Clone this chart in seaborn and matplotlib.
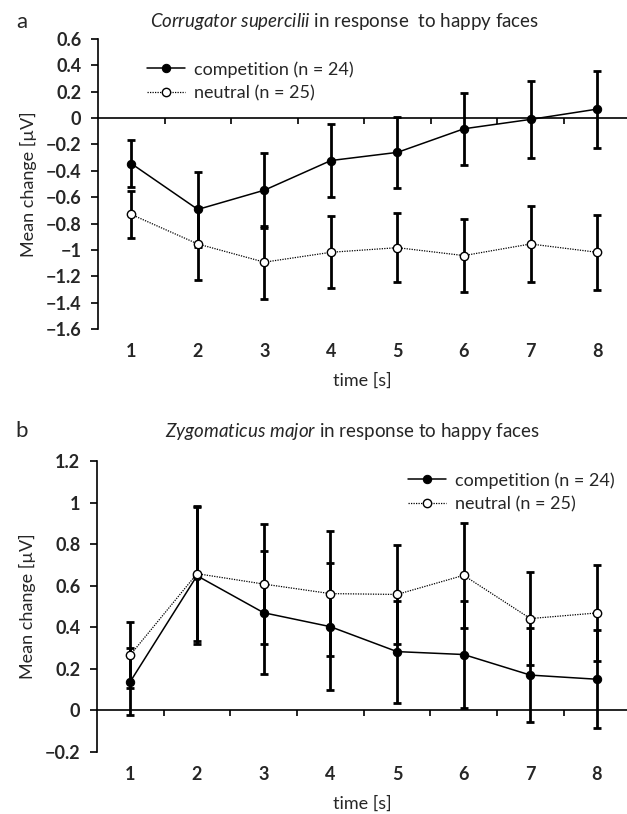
import numpy as np
import pandas as pd
import matplotlib
matplotlib.use('Agg')
import matplotlib.pyplot as plt
import seaborn as sns
from matplotlib.ticker import FuncFormatter

# time points (s)
time_s = [1, 2, 3, 4, 5, 6, 7, 8]
group_names = ['competition (n = 24)', 'neutral (n = 25)']

# panel a: corrugator supercilii, mean change and SE
corr_comp = [-0.345, -0.693, -0.547, -0.322, -0.26, -0.081, -0.01, 0.068]
corr_comp_se = [0.18, 0.287, 0.285, 0.278, 0.27, 0.272, 0.29, 0.292]
corr_neut = [-0.731, -0.955, -1.093, -1.018, -0.983, -1.043, -0.955, -1.018]
corr_neut_se = [0.176, 0.277, 0.278, 0.274, 0.26, 0.275, 0.287, 0.285]

# panel b: zygomaticus major
zyg_comp = [0.139, 0.648, 0.47, 0.403, 0.283, 0.269, 0.17, 0.15]
zyg_comp_se = [0.163, 0.33, 0.295, 0.305, 0.245, 0.256, 0.228, 0.235]
zyg_neut = [0.267, 0.658, 0.608, 0.562, 0.558, 0.65, 0.442, 0.469]
zyg_neut_se = [0.16, 0.325, 0.29, 0.3, 0.24, 0.252, 0.222, 0.23]

corr_ticks = [0.6, 0.4, 0.2, 0, -0.2, -0.4, -0.6, -0.8, -1, -1.2, -1.4, -1.6]
zyg_ticks = [1.2, 1, 0.8, 0.6, 0.4, 0.2, 0, -0.2]

sns.set_style('white')
plt.rcParams['font.family'] = ['Lato', 'DejaVu Sans']
plt.rcParams['mathtext.fontset'] = 'custom'
plt.rcParams['mathtext.rm'] = 'Lato'
plt.rcParams['mathtext.it'] = 'Lato:italic'

FS = 13

W, H = 627, 814
fig = plt.figure(figsize=(W / 100, H / 100), dpi=100)
ax_a = fig.add_axes([98 / W, 1 - 329 / H, 1 - 98 / W, 290 / H])
ax_b = fig.add_axes([97 / W, 1 - 752 / H, 1 - 97 / W, 291 / H])


def fmt(v, pos):
    return f"{v:g}".replace('-', '\u2212')


def draw_panel(ax, comp, comp_se, neut, neut_se, yticks, legend_xy):
    df = pd.DataFrame({
        'time': time_s * 2,
        'value': comp + neut,
        'group': [group_names[0]] * 8 + [group_names[1]] * 8,
    })
    ax.errorbar(time_s, comp, yerr=comp_se, fmt='none', ecolor='black',
                elinewidth=2, capsize=3, capthick=2, zorder=2)
    ax.errorbar(time_s, neut, yerr=neut_se, fmt='none', ecolor='black',
                elinewidth=2, capsize=3, capthick=2, zorder=2)
    sns.lineplot(data=df[df.group == group_names[0]], x='time', y='value',
                 color='black', lw=1.1, marker='o', markersize=6,
                 markerfacecolor='black', markeredgecolor='black',
                 label=group_names[0], ax=ax, zorder=3)
    sns.lineplot(data=df[df.group == group_names[1]], x='time', y='value',
                 color='black', lw=0.9, linestyle=(0, (1, 1)), marker='o',
                 markersize=6, markerfacecolor='white',
                 markeredgecolor='black', markeredgewidth=1,
                 label=group_names[1], ax=ax, zorder=3)

    ax.set_xlim(0.5, 8.45)
    ax.set_ylim(min(yticks), max(yticks))
    ax.set_yticks(yticks)
    ax.yaxis.set_major_formatter(FuncFormatter(fmt))
    for s in ['top', 'right']:
        ax.spines[s].set_visible(False)
    ax.spines['bottom'].set_position(('data', 0))
    for s in ['left', 'bottom']:
        ax.spines[s].set_color('black')
        ax.spines[s].set_linewidth(1.2)
    ax.set_xticks(np.arange(1.5, 8, 1))
    ax.set_xticklabels([])
    ax.tick_params(axis='x', direction='out', length=4, width=1.2,
                   color='black', bottom=True)
    ax.tick_params(axis='y', direction='out', length=5, width=1.2,
                   color='black', left=True, pad=7, labelsize=FS)
    for t in ax.get_yticklabels():
        t.set_fontweight('bold')
    ax.set_xlabel('')
    ax.set_ylabel('Mean change [\u00b5V]', fontsize=FS, labelpad=6)

    sec = ax.secondary_xaxis('bottom')
    sec.set_xticks(time_s)
    sec.set_xticklabels([str(t) for t in time_s], fontweight='bold',
                        fontsize=FS)
    sec.tick_params(length=0, pad=10)
    sec.spines['bottom'].set_visible(False)
    sec.set_xlabel('time [s]', fontsize=FS, labelpad=9)

    ax.legend(loc='upper left', bbox_to_anchor=legend_xy, frameon=False,
              fontsize=FS, handlelength=2.1, handletextpad=0.5,
              labelspacing=0.4, borderaxespad=0)


draw_panel(ax_a, corr_comp, corr_comp_se, corr_neut, corr_neut_se,
           corr_ticks, (42 / 529, 1 - 15 / 290))
draw_panel(ax_b, zyg_comp, zyg_comp_se, zyg_neut, zyg_neut_se,
           zyg_ticks, (304 / 530, 1 - 4 / 291))

fig.text(22 / W, 1 - 22 / H, 'a', fontsize=16, va='center', ha='center')
fig.text(345 / W, 1 - 22 / H,
         r'$\it{Corrugator\ supercilii}$ in response  to happy faces',
         fontsize=13.5, va='center', ha='center')
fig.text(22 / W, 1 - 431 / H, 'b', fontsize=16, va='center', ha='center')
fig.text(352 / W, 1 - 431 / H,
         r'$\it{Zygomaticus\ major}$ in response to happy faces',
         fontsize=13.5, va='center', ha='center')

fig.savefig('out.png', dpi=100)
